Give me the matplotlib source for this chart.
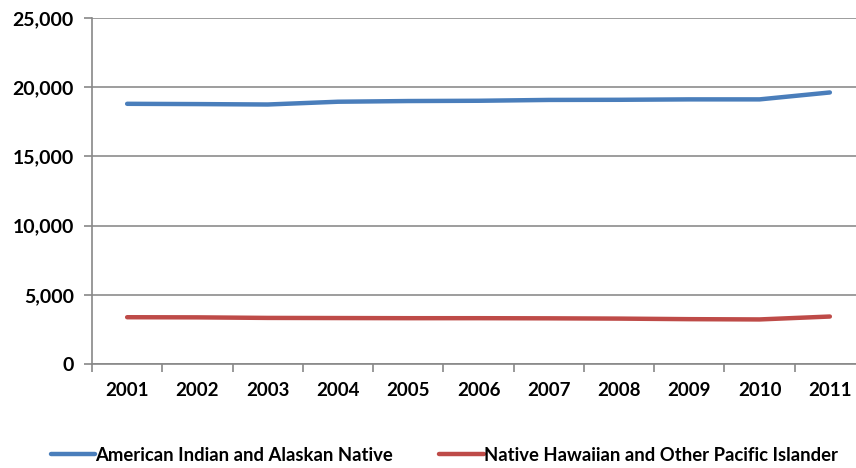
import numpy as np
import matplotlib.pyplot as plt

years = ["2001", "2002", "2003", "2004", "2005", "2006", "2007", "2008", "2009", "2010", "2011"]
aian = [18800, 18780, 18750, 18950, 19000, 19020, 19080, 19090, 19120, 19120, 19620]
nhpi = [3380, 3370, 3330, 3320, 3310, 3310, 3300, 3280, 3240, 3220, 3430]
series_names = ["American Indian and Alaskan Native", "Native Hawaiian and Other Pacific Islander"]

plt.rcParams['font.family'] = ['Lato', 'DejaVu Sans']

fig = plt.figure(figsize=(8.56, 4.68), dpi=100)
ax = fig.add_axes([92 / 856, 104 / 468, 773 / 856, 346 / 468])

x = np.arange(len(years))
ax.plot(x, aian, color="#4a7ebb", lw=3.2, solid_capstyle="round", label=series_names[0])
ax.plot(x, nhpi, color="#be4b48", lw=3.2, solid_capstyle="round", label=series_names[1])

ax.set_xlim(-0.5, len(years) - 0.5)
ax.set_ylim(0, 25000)
ax.set_yticks(np.arange(0, 25001, 5000))
ax.set_yticklabels([f"{v:,}" for v in range(0, 25001, 5000)], fontsize=14, fontweight="bold")
ax.set_xticks(x)
ax.set_xticklabels(years, fontsize=13.5, fontweight="bold")
ax.set_xticks(np.arange(-0.5, len(years), 1), minor=True)
ax.tick_params(axis="x", which="major", length=0, pad=13)
ax.tick_params(axis="x", which="minor", length=6, color="#888888", width=1.2)
ax.tick_params(axis="y", length=6, color="#888888", width=1.2, pad=7)

ax.grid(axis="y", color="#8c8c8c", lw=1.2)
ax.set_axisbelow(True)
for s in ["top", "right"]:
    ax.spines[s].set_visible(False)
for s in ["left", "bottom"]:
    ax.spines[s].set_color("#888888")
    ax.spines[s].set_linewidth(1.2)

fig.legend(loc="center", bbox_to_anchor=(0.519, 0.027), ncol=2, frameon=False,
           handlelength=2.4, handletextpad=0.0, columnspacing=2.5,
           prop={"size": 13.3, "weight": "bold"})

fig.savefig("out.png", dpi=100)
